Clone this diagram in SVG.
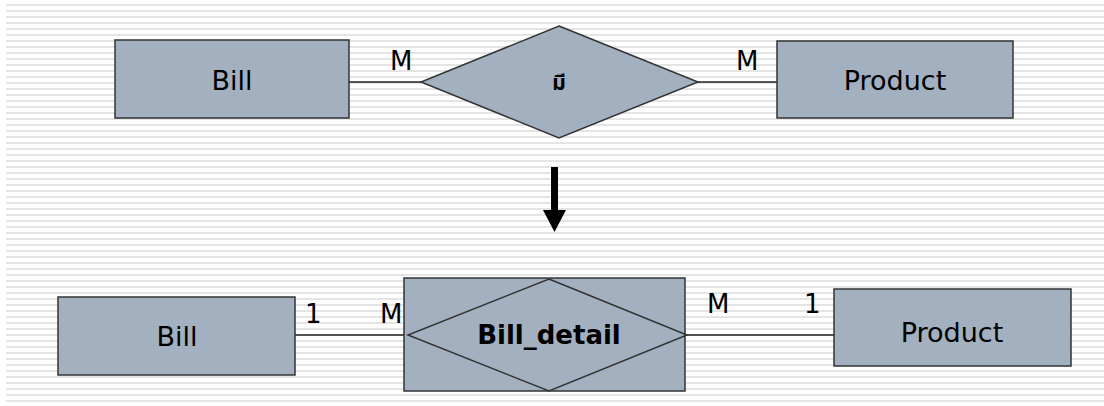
<svg xmlns="http://www.w3.org/2000/svg" width="1104" height="406" viewBox="0 0 1104 406">
  <defs>
    <pattern id="stripes" x="0" y="0" width="8" height="6" patternUnits="userSpaceOnUse">
      <rect x="0" y="4" width="8" height="2" fill="#e4e4e4"/>
    </pattern>
    <style>
      .box { fill: #a2b0bf; stroke: #333; stroke-width: 1.5; }
      .lbl { font-family: "DejaVu Sans", Verdana, sans-serif; font-size: 26px; fill: #000; }
      .name { font-family: "DejaVu Sans", Verdana, sans-serif; font-size: 27px; fill: #000; text-anchor: middle; }
      .conn { stroke: #222; stroke-width: 1.5; fill: none; }
    </style>
  </defs>
  <rect x="0" y="0" width="1104" height="406" fill="#fff"/>
  <rect x="6" y="0" width="1098" height="406" fill="url(#stripes)"/>

  <g id="connectors">
    <line class="conn" x1="349" y1="82" x2="421" y2="82"/>
    <line class="conn" x1="698" y1="82" x2="777" y2="82"/>
    <line class="conn" x1="291" y1="335" x2="404" y2="335"/>
    <line class="conn" x1="685" y1="335" x2="834" y2="335"/>
    <rect x="551" y="167" width="7" height="44" fill="#000"/>
    <polygon points="543,210 566,210 554.5,232" fill="#000"/>
  </g>

  <g id="bill-top">
    <rect class="box" x="115" y="40" width="234" height="78"/>
    <text class="name" x="232" y="90">Bill</text>
  </g>
  <g id="rel-top">
    <polygon class="box" points="559,26 698,82 559,138 421,82"/>
    <text x="559" y="90" text-anchor="middle" font-family="'Noto Sans Thai', 'Noto Sans', 'DejaVu Sans', sans-serif" font-size="21" font-weight="bold">มี</text>
  </g>
  <g id="product-top">
    <rect class="box" x="777" y="41" width="236" height="77"/>
    <text class="name" x="895" y="90">Product</text>
  </g>

  <g id="labels-top">
    <text class="lbl" x="390" y="70">M</text>
    <text class="lbl" x="736" y="70">M</text>
  </g>

  <g id="bill-bottom">
    <rect class="box" x="58" y="297" width="237" height="78"/>
    <text class="name" x="177" y="346">Bill</text>
  </g>
  <g id="bill-detail">
    <rect class="box" x="404" y="278" width="281" height="113"/>
    <polygon fill="none" stroke="#333" stroke-width="1.5" points="549,279 687,335 549,391 408,335"/>
    <text x="549" y="344" text-anchor="middle" font-family="'DejaVu Sans', Verdana, sans-serif" font-size="26" font-weight="bold">Bill_detail</text>
  </g>
  <g id="product-bottom">
    <rect class="box" x="834" y="289" width="237" height="77"/>
    <text class="name" x="952" y="342">Product</text>
  </g>

  <g id="labels-bottom">
    <text class="lbl" x="305" y="323">1</text>
    <text class="lbl" x="380" y="323">M</text>
    <text class="lbl" x="707" y="313">M</text>
    <text class="lbl" x="804" y="313">1</text>
  </g>
</svg>
